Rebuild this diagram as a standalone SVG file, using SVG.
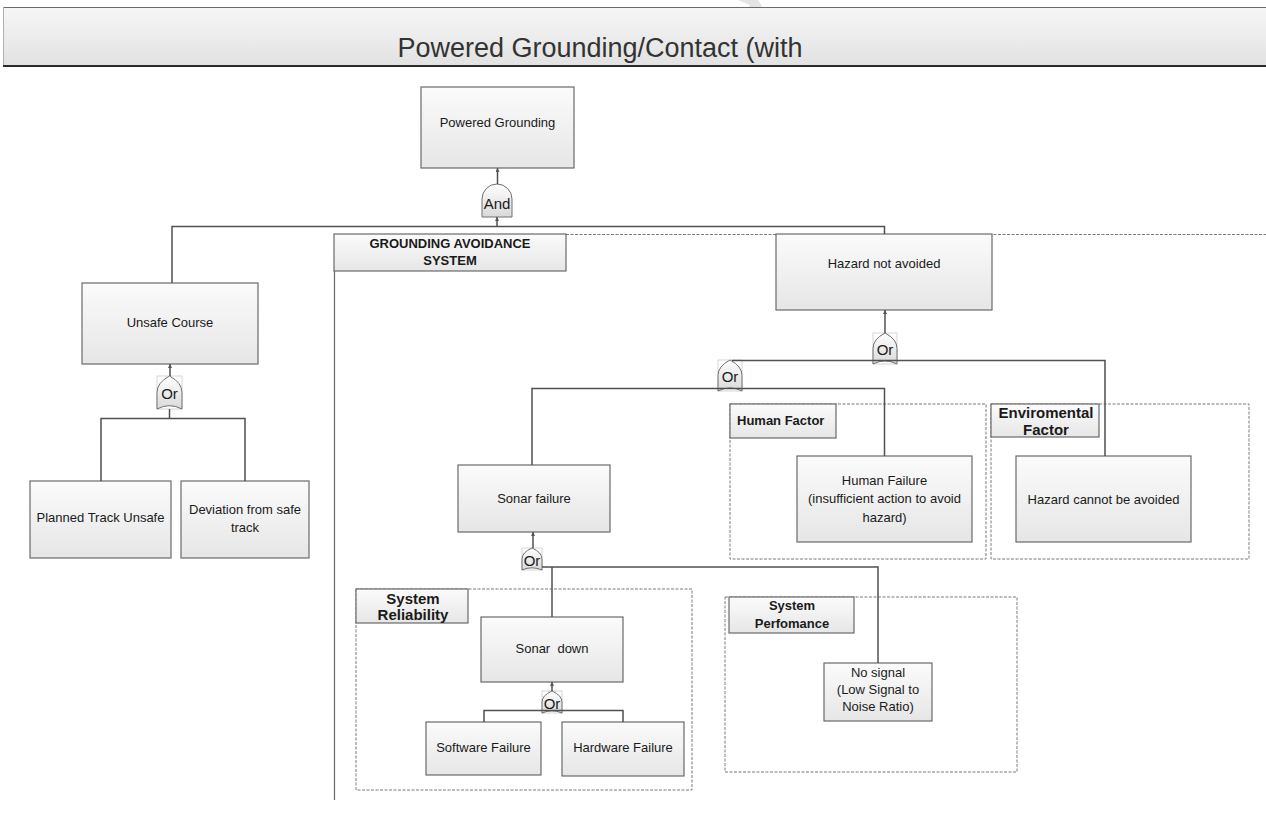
<svg xmlns="http://www.w3.org/2000/svg" width="1266" height="827" viewBox="0 0 1266 827">
  <defs>
    <linearGradient id="boxFill" x1="0" y1="0" x2="0" y2="1">
      <stop offset="0" stop-color="#fbfbfb"/>
      <stop offset="1" stop-color="#e6e6e6"/>
    </linearGradient>
    <linearGradient id="bannerFill" x1="0" y1="0" x2="0" y2="1">
      <stop offset="0" stop-color="#f6f6f6"/>
      <stop offset="1" stop-color="#e2e2e2"/>
    </linearGradient>
    <linearGradient id="gateFill" x1="0" y1="0" x2="0" y2="1">
      <stop offset="0" stop-color="#ffffff"/>
      <stop offset="1" stop-color="#d9d9d9"/>
    </linearGradient>
    <marker id="tip" viewBox="0 0 6 6" markerWidth="4" markerHeight="4" refX="6" refY="3" orient="auto-start-reverse" markerUnits="userSpaceOnUse">
      <path d="M0,0 L6,3 L0,6 z" fill="#555"/>
    </marker>
    <style>
      .box { fill: url(#boxFill); stroke: #6a6a6a; stroke-width: 1.2; }
      .hdr { fill: url(#boxFill); stroke: #6a6a6a; stroke-width: 1.2; }
      .zone { fill: none; stroke: #7a7a7a; stroke-width: 1; stroke-dasharray: 3 1.5; }
      .gate { fill: url(#gateFill); stroke: #707070; stroke-width: 1; }
      .gbox { fill: none; stroke: #c4c4c4; stroke-width: 0.7; }
      .lbl { font-family: "Liberation Sans", Arial, sans-serif; font-size: 13px; fill: #1a1a1a; text-anchor: middle; }
      .bold { font-family: "Liberation Sans", Arial, sans-serif; font-weight: bold; fill: #1a1a1a; text-anchor: middle; }
      .gt { font-family: "Liberation Sans", Arial, sans-serif; font-size: 15px; fill: #1a1a1a; text-anchor: middle; }
      .wire { fill: none; stroke: #505050; stroke-width: 1.5; }
    </style>
  </defs>

  <rect width="1266" height="827" fill="#ffffff"/>

  <!-- faint mark at the top edge -->
  <path d="M738,0 L758,0 L762,6 L748,18 L742,14 L750,5 Z" fill="#e4e4e4"/>

  <!-- title banner -->
  <g id="title">
    <rect x="3" y="7" width="1270" height="59" fill="url(#bannerFill)"/>
    <line x1="3" y1="7.5" x2="1266" y2="7.5" stroke="#6a6a6a" stroke-width="1"/>
    <line x1="3.5" y1="7" x2="3.5" y2="66" stroke="#b0b0b0" stroke-width="1"/>
    <line x1="3" y1="66" x2="1266" y2="66" stroke="#2a2a2a" stroke-width="2"/>
    <text x="600" y="57" font-family="'Liberation Sans', Arial, sans-serif" font-size="27" fill="#333" text-anchor="middle">Powered Grounding/Contact (with</text>
  </g>

  <!-- grouping zones -->
  <g id="zone-grounding-avoidance">
    <line x1="566" y1="234.5" x2="1266" y2="234.5" class="zone"/>
    <line x1="334.5" y1="270" x2="334.5" y2="800" stroke="#6a6a6a" stroke-width="1.2"/>
    <rect x="334" y="234" width="232" height="37" class="hdr"/>
    <text x="450" y="248" class="bold" font-size="13">GROUNDING AVOIDANCE</text>
    <text x="450" y="265" class="bold" font-size="13">SYSTEM</text>
  </g>

  <g id="zone-human-factor">
    <rect x="730" y="404" width="256" height="155" class="zone"/>
    <rect x="730" y="404" width="106" height="34" class="hdr"/>
    <text x="737" y="425" class="bold" font-size="13" text-anchor="start" style="text-anchor:start">Human Factor</text>
  </g>

  <g id="zone-environmental-factor">
    <rect x="991" y="404" width="258" height="155" class="zone"/>
    <rect x="991" y="404" width="108" height="33" class="hdr"/>
    <text x="1046" y="418" class="bold" font-size="15">Enviromental</text>
    <text x="1046" y="435" class="bold" font-size="15">Factor</text>
  </g>

  <g id="zone-system-reliability">
    <rect x="356" y="589" width="336" height="201" class="zone"/>
    <rect x="356" y="589" width="112" height="34" class="hdr"/>
    <text x="413" y="604" class="bold" font-size="15">System</text>
    <text x="413" y="620" class="bold" font-size="15">Reliability</text>
  </g>

  <g id="zone-system-performance">
    <rect x="725" y="597" width="292" height="175" class="zone"/>
    <rect x="729" y="597" width="125" height="36" class="hdr"/>
    <text x="792" y="610" class="bold" font-size="13">System</text>
    <text x="792" y="628" class="bold" font-size="13">Perfomance</text>
  </g>

  <!-- event boxes -->
  <g id="powered-grounding">
    <rect x="421" y="87" width="153" height="81" class="box"/>
    <text x="497.5" y="127" class="lbl">Powered Grounding</text>
  </g>

  <g id="unsafe-course">
    <rect x="82" y="283" width="176" height="81" class="box"/>
    <text x="170" y="327" class="lbl">Unsafe Course</text>
  </g>

  <g id="planned-track-unsafe">
    <rect x="30" y="481" width="141" height="77" class="box"/>
    <text x="100.5" y="522" class="lbl">Planned Track Unsafe</text>
  </g>

  <g id="deviation-from-safe-track">
    <rect x="181" y="481" width="128" height="77" class="box"/>
    <text x="245" y="514" class="lbl">Deviation from safe</text>
    <text x="245" y="532" class="lbl">track</text>
  </g>

  <g id="hazard-not-avoided">
    <rect x="776" y="234" width="216" height="76" class="box"/>
    <text x="884" y="268" class="lbl">Hazard not avoided</text>
  </g>

  <g id="human-failure">
    <rect x="797" y="456" width="175" height="86" class="box"/>
    <text x="884.5" y="485" class="lbl">Human Failure</text>
    <text x="884.5" y="503" class="lbl">(insufficient action to avoid</text>
    <text x="884.5" y="522" class="lbl">hazard)</text>
  </g>

  <g id="hazard-cannot-be-avoided">
    <rect x="1016" y="456" width="175" height="86" class="box"/>
    <text x="1103.5" y="504" class="lbl">Hazard cannot be avoided</text>
  </g>

  <g id="sonar-failure">
    <rect x="458" y="465" width="152" height="67" class="box"/>
    <text x="534" y="503" class="lbl">Sonar failure</text>
  </g>

  <g id="sonar-down">
    <rect x="481" y="617" width="142" height="65" class="box"/>
    <text x="552" y="653" class="lbl" xml:space="preserve">Sonar  down</text>
  </g>

  <g id="software-failure">
    <rect x="426" y="722" width="115" height="53" class="box"/>
    <text x="483.5" y="752" class="lbl">Software Failure</text>
  </g>

  <g id="hardware-failure">
    <rect x="562" y="722" width="122" height="54" class="box"/>
    <text x="623" y="752" class="lbl">Hardware Failure</text>
  </g>

  <g id="no-signal">
    <rect x="824" y="663" width="108" height="58" class="box"/>
    <text x="878" y="677" class="lbl">No signal</text>
    <text x="878" y="694" class="lbl">(Low Signal to</text>
    <text x="878" y="711" class="lbl">Noise Ratio)</text>
  </g>

  <!-- logic gates -->
  <g id="gate-and">
    <path d="M482,217 L482,199 A15,15 0 0 1 512,199 L512,217 Z" class="gate"/>
    <text x="497" y="209" class="gt" font-size="16">And</text>
  </g>

  <g id="gate-or-unsafe-course">
    <rect x="157" y="376" width="25" height="33" class="gbox"/>
    <path d="M157,409 L157,392.5 Q157,382.6 169.5,376 Q182,382.6 182,392.5 L182,409 Q169.5,402.4 157,409 Z" class="gate"/>
    <text x="169.5" y="399" class="gt">Or</text>
  </g>

  <g id="gate-or-hazard">
    <rect x="873" y="333" width="24" height="31" class="gbox"/>
    <path d="M873,364 L873,348.5 Q873,339.2 885,333 Q897,339.2 897,348.5 L897,364 Q885,357.8 873,364 Z" class="gate"/>
    <text x="885" y="355" class="gt">Or</text>
  </g>

  <g id="gate-or-avoidance">
    <rect x="718" y="360" width="24" height="31" class="gbox"/>
    <path d="M718,391 L718,375.5 Q718,366.2 730,360 Q742,366.2 742,375.5 L742,391 Q730,384.8 718,391 Z" class="gate"/>
    <text x="730" y="382" class="gt">Or</text>
  </g>

  <g id="gate-or-sonar">
    <rect x="522" y="548" width="20" height="22" class="gbox"/>
    <path d="M522,570 L522,559 Q522,552.4 532,548 Q542,552.4 542,559 L542,570 Q532,565.6 522,570 Z" class="gate"/>
    <text x="532" y="566" class="gt">Or</text>
  </g>

  <g id="gate-or-sonar-down">
    <rect x="542" y="691" width="20" height="22" class="gbox"/>
    <path d="M542,713 L542,702 Q542,695.4 552,691 Q562,695.4 562,702 L562,713 Q552,708.6 542,713 Z" class="gate"/>
    <text x="552" y="709" class="gt">Or</text>
  </g>

  <!-- connectors -->
  <g id="connectors">
    <path d="M497.5,168 V184" class="wire" marker-start="url(#tip)"/>
    <path d="M497,217 V226" class="wire" marker-start="url(#tip)"/>
    <path d="M172,283 V226.5 H884.5 V234" class="wire"/>

    <path d="M170,364 V376" class="wire" marker-start="url(#tip)"/>
    <path d="M169.5,409 V418" class="wire"/>
    <path d="M101,481 V418.5 H245 V481" class="wire"/>

    <path d="M885,310 V333" class="wire" marker-start="url(#tip)"/>
    <path d="M732,360.5 H1105 V456" class="wire"/>
    <path d="M532,465 V388.5 H884.5 V456" class="wire"/>

    <path d="M533,532 V548" class="wire" marker-start="url(#tip)"/>
    <path d="M542,567 H878 V663" class="wire"/>
    <path d="M552,567 V617" class="wire"/>

    <path d="M552,682 V691" class="wire" marker-start="url(#tip)"/>
    <path d="M484,722 V710.5 H623 V722" class="wire"/>
  </g>
</svg>
